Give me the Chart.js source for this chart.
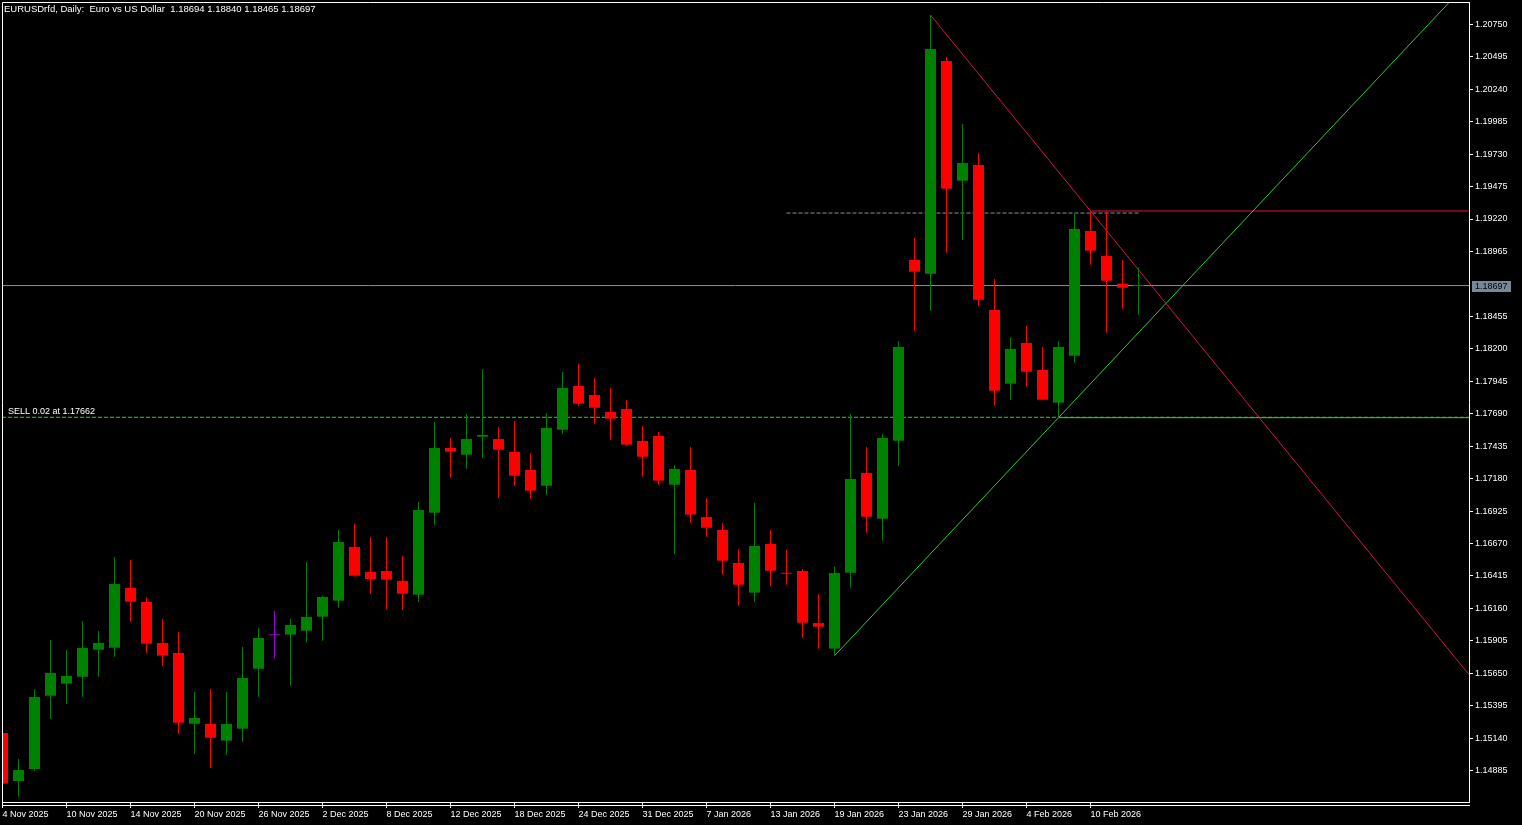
<!DOCTYPE html>
<html><head><meta charset="utf-8">
<style>html,body{margin:0;padding:0;background:#000;overflow:hidden}canvas{display:block}</style>
<script src="https://cdn.jsdelivr.net/npm/chart.js@4.4.1/dist/chart.umd.min.js"></script>
</head><body>
<canvas id="c" width="1522" height="825"></canvas>
<script>
// ---------- DATA ----------
const dates = ['4 Nov 2025','5 Nov 2025','6 Nov 2025','7 Nov 2025','10 Nov 2025','11 Nov 2025','12 Nov 2025','13 Nov 2025','14 Nov 2025','17 Nov 2025','18 Nov 2025','19 Nov 2025','20 Nov 2025','21 Nov 2025','24 Nov 2025','25 Nov 2025','26 Nov 2025','27 Nov 2025','28 Nov 2025','1 Dec 2025','2 Dec 2025','3 Dec 2025','4 Dec 2025','5 Dec 2025','8 Dec 2025','9 Dec 2025','10 Dec 2025','11 Dec 2025','12 Dec 2025','15 Dec 2025','16 Dec 2025','17 Dec 2025','18 Dec 2025','19 Dec 2025','22 Dec 2025','23 Dec 2025','24 Dec 2025','26 Dec 2025','29 Dec 2025','30 Dec 2025','31 Dec 2025','2 Jan 2026','5 Jan 2026','6 Jan 2026','7 Jan 2026','8 Jan 2026','9 Jan 2026','12 Jan 2026','13 Jan 2026','14 Jan 2026','15 Jan 2026','16 Jan 2026','19 Jan 2026','20 Jan 2026','21 Jan 2026','22 Jan 2026','23 Jan 2026','26 Jan 2026','27 Jan 2026','28 Jan 2026','29 Jan 2026','30 Jan 2026','2 Feb 2026','3 Feb 2026','4 Feb 2026','5 Feb 2026','6 Feb 2026','9 Feb 2026','10 Feb 2026','11 Feb 2026','12 Feb 2026','13 Feb 2026'];
const opens  = [1.15181,1.14804,1.14898,1.15474,1.15569,1.15623,1.15836,1.15851,1.16321,1.16211,1.15888,1.15810,1.15254,1.15252,1.15121,1.15215,1.15686,1.15949,1.15954,1.15985,1.16095,1.16221,1.16643,1.16446,1.16454,1.16376,1.16268,1.16912,1.17421,1.17368,1.17509,1.17491,1.17389,1.17248,1.17124,1.17564,1.17908,1.17837,1.17704,1.17727,1.17476,1.17515,1.17132,1.17248,1.16878,1.16776,1.16517,1.16284,1.16666,1.16438,1.16454,1.16045,1.15844,1.16441,1.17224,1.16865,1.17478,1.18898,1.18790,1.20462,1.19521,1.19644,1.18505,1.17926,1.18246,1.18034,1.17777,1.18146,1.19126,1.18929,1.18712,1.18694];
const highs  = [1.15181,1.14977,1.15527,1.15912,1.15833,1.16061,1.15983,1.16564,1.16541,1.16250,1.16077,1.15975,1.15503,1.15527,1.15503,1.15857,1.16006,1.16140,1.16077,1.16525,1.16258,1.16776,1.16823,1.16721,1.16721,1.16572,1.16996,1.17625,1.17499,1.17688,1.18041,1.17586,1.17633,1.17381,1.17696,1.18018,1.18081,1.17971,1.17892,1.17798,1.17594,1.17546,1.17287,1.17429,1.17028,1.16831,1.16627,1.16988,1.16776,1.16619,1.16470,1.16276,1.16488,1.17688,1.17429,1.17531,1.18261,1.19071,1.20823,1.20493,1.19967,1.19739,1.18749,1.18293,1.18379,1.18214,1.18261,1.19267,1.19283,1.19283,1.18898,1.18840];
const lows   = [1.14783,1.14680,1.14885,1.15291,1.15411,1.15466,1.15623,1.15781,1.16056,1.15812,1.15710,1.15176,1.15018,1.14909,1.15008,1.15113,1.15466,1.15765,1.15553,1.15891,1.15906,1.16166,1.16410,1.16276,1.16156,1.16148,1.16213,1.16818,1.17187,1.17258,1.17344,1.17030,1.17124,1.17022,1.17054,1.17533,1.17753,1.17612,1.17486,1.17440,1.17195,1.17132,1.16590,1.16834,1.16724,1.16425,1.16181,1.16213,1.16339,1.16346,1.15930,1.15844,1.15788,1.16323,1.16755,1.16692,1.17282,1.18340,1.18500,1.18955,1.19057,1.18539,1.17753,1.17800,1.17902,1.17795,1.17659,1.18091,1.18861,1.18327,1.18515,1.18465];
const closes = [1.14783,1.14890,1.15464,1.15653,1.15629,1.15849,1.15888,1.16352,1.16213,1.15883,1.15789,1.15262,1.15299,1.15144,1.15252,1.15613,1.15928,1.15949,1.16030,1.16093,1.16250,1.16682,1.16417,1.16391,1.16386,1.16276,1.16933,1.17421,1.17392,1.17491,1.17523,1.17407,1.17203,1.17085,1.17578,1.17892,1.17769,1.17737,1.17651,1.17447,1.17352,1.17164,1.17256,1.16897,1.16794,1.16535,1.16346,1.16651,1.16456,1.16433,1.16048,1.16016,1.16438,1.17177,1.16881,1.17499,1.18214,1.18806,1.20556,1.19458,1.19660,1.18586,1.17871,1.18199,1.18020,1.17800,1.18214,1.19142,1.18971,1.18735,1.18680,1.18697];
const markedCandles = [17];            // candle drawn in the violet colour
const xTickIndex = [0,4,8,12,16,20,24,28,32,36,40,44,48,52,56,60,64,68];
const yTickValues = [1.20750,1.20495,1.20240,1.19985,1.19730,1.19475,1.19220,1.18965,1.18455,1.18200,1.17945,1.17690,1.17435,1.17180,1.16925,1.16670,1.16415,1.16160,1.15905,1.15650,1.15395,1.15140,1.14885];
const titleText = 'EURUSDrfd, Daily:  Euro vs US Dollar';
const currentPrice = 1.18697;
const sellPrice = 1.17662;
const sellText = 'SELL 0.02 at 1.17662';
const redTrend = [[58,1.20823],[68,1.19283]];     // [candle index, price]
const greenTrend = [[52,1.15788],[66,1.17659]];
const greyDashLevel = [49,71,1.19267];             // [from index, to index, price]
const redLevel = [68,1.19283];                     // [from index, price] -> right edge
const greenLevel = [66,1.17659];

// ---------- STYLE / LAYOUT ----------
const BULL='#008000', BEAR='#ff0000', MARK='#9b00d8';
const FONT='"Liberation Sans", Arial, sans-serif';
const xMin=-0.03125, xMax=xMin+1467/16;
const yMax=1.209253, yMin=1.146389;

const candleColor = i => markedCandles.includes(i) ? MARK : (closes[i] >= opens[i] ? BULL : BEAR);
const ray = (a,b,xe) => [{x:a[0],y:a[1]},{x:xe,y:a[1]+(b[1]-a[1])/(b[0]-a[0])*(xe-a[0])}];
const lineDs = (data,color,dash) => ({type:'line',data,borderColor:color,borderWidth:1,borderDash:dash||[],pointRadius:0,fill:false,tension:0,clip:0,order:10});

Chart.defaults.color='#fff';
Chart.defaults.font.family=FONT;
Chart.defaults.font.size=9;

const overlay = {
  id:'overlay',
  afterDraw(chart){
    const {ctx, chartArea:a, scales:{y}} = chart;
    ctx.save();
    ctx.strokeStyle='#fff'; ctx.lineWidth=1;
    ctx.beginPath();
    ctx.moveTo(a.left+0.5,a.bottom); ctx.lineTo(a.left+0.5,a.top+0.5); ctx.lineTo(a.right+0.5,a.top+0.5);
    ctx.moveTo(a.left,a.bottom+3.5); ctx.lineTo(a.right+1,a.bottom+3.5);
    ctx.stroke();
    ctx.fillStyle='#fff'; ctx.textBaseline='middle'; ctx.textAlign='left';
    const n=closes.length-1;
    ctx.font='9.5px '+FONT;
    ctx.fillText(titleText+'  '+[opens[n],highs[n],lows[n],closes[n]].map(v=>v.toFixed(5)).join(' '), 4, 9);
    ctx.font='9px '+FONT;
    ctx.fillText(sellText, 8, y.getPixelForValue(sellPrice)-6);
    const py = Math.round(y.getPixelForValue(currentPrice));
    ctx.fillStyle='#778899'; ctx.fillRect(a.right+3, py-5, 39, 11);
    ctx.fillStyle='#000'; ctx.fillText(currentPrice.toFixed(5), a.right+6, py+0.5);
    ctx.restore();
  }
};

new Chart(document.getElementById('c'), {
  type:'bar',
  data:{datasets:[
    lineDs(ray(redTrend[0],redTrend[1],xMax),'#dc143c'),
    lineDs(ray(greenTrend[0],greenTrend[1],xMax),'#32cd32'),
    lineDs([{x:xMin,y:sellPrice},{x:xMax,y:sellPrice}],'#32cd32',[4,2]),
    lineDs([{x:xMin,y:currentPrice},{x:xMax,y:currentPrice}],'#8a909a'),
    lineDs([{x:greyDashLevel[0],y:greyDashLevel[2]},{x:greyDashLevel[1],y:greyDashLevel[2]}],'#8a909a',[4,2]),
    lineDs([{x:redLevel[0],y:redLevel[1]},{x:xMax,y:redLevel[1]}],'#dc143c'),
    lineDs([{x:greenLevel[0],y:greenLevel[1]},{x:xMax,y:greenLevel[1]}],'#32cd32'),
    {type:'bar',data:dates.map((d,i)=>({x:i,y:[lows[i],highs[i]]})),barThickness:1,grouped:false,inflateAmount:0,borderWidth:0,
      backgroundColor:c=>candleColor(c.dataIndex),clip:0,order:2},
    {type:'bar',data:dates.map((d,i)=>({x:i,y:[opens[i],closes[i]]})),barThickness:11,minBarLength:1,grouped:false,inflateAmount:0,borderWidth:0,
      backgroundColor:c=>candleColor(c.dataIndex),clip:0,order:1}
  ]},
  options:{
    responsive:false, animation:false, devicePixelRatio:1, events:[],
    layout:{padding:{left:2,top:2,right:0,bottom:0}},
    plugins:{legend:{display:false},tooltip:{enabled:false}},
    scales:{
      x:{type:'linear',min:xMin,max:xMax,offset:false,bounds:'data',
        grid:{display:true,drawOnChartArea:false,drawTicks:true,tickLength:6,color:'#fff',offset:false},
        border:{display:true,color:'#fff'},
        ticks:{color:'#fff',font:{size:9},align:'start',padding:1,maxRotation:0,autoSkip:false,callback:v=>dates[v]},
        afterBuildTicks:s=>{s.ticks=xTickIndex.map(v=>({value:v}));},
        afterFit:s=>{s.height=23;s.paddingLeft=0;s.paddingRight=0;s.paddingTop=0;s.paddingBottom=0;}
      },
      y:{type:'linear',position:'right',min:yMin,max:yMax,bounds:'data',
        grid:{display:true,drawOnChartArea:false,drawTicks:true,tickLength:4,color:'#fff'},
        border:{display:true,color:'#fff'},
        ticks:{color:'#fff',font:{size:9},padding:2,autoSkip:false,callback:v=>v.toFixed(5)},
        afterBuildTicks:s=>{s.ticks=yTickValues.map(v=>({value:v}));},
        afterFit:s=>{s.width=53;s.paddingLeft=0;s.paddingRight=0;s.paddingTop=0;s.paddingBottom=0;}
      }
    }
  },
  plugins:[overlay]
});
</script>
</body></html>
